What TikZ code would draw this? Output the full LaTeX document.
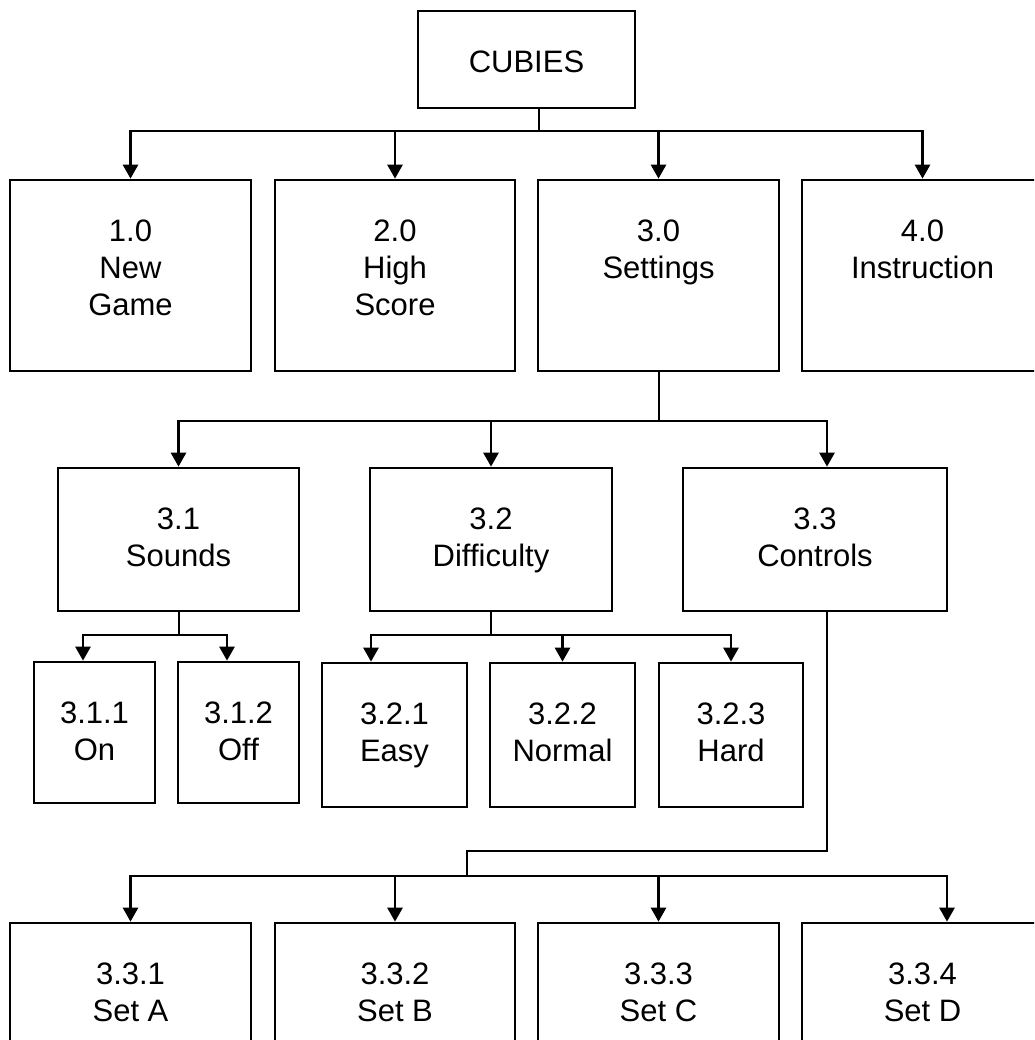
\documentclass[tikz,border=0pt]{standalone}
\usepackage{fontspec}
\setmainfont{Liberation Sans}
\usetikzlibrary{arrows.meta,fit,calc}
\tikzset{
  box/.style={draw, line width=2.7pt, inner sep=0pt},
  lbl/.style={font=\fontsize{31}{37}\selectfont, align=center, anchor=north, inner sep=0pt},
  wire/.style={line width=2.7pt},
  arr/.style={wire, -{Triangle[width=15pt,length=14pt]}},
}
% \chartbox{name}{x1}{y1}{x2}{y2}{text}: a framed box with its text hung from the top
\newcommand\chartbox[6]{%
  \path (#2,#3) coordinate (#1-a) (#4,#5) coordinate (#1-b);
  \node[box, fit=(#1-a)(#1-b)] (#1) {};
  \node[lbl] (#1-t) at ($(#1.north)+(0,40.8)$) {#6};
}
\begin{document}
\begin{tikzpicture}[x=1pt,y=-1pt]
\useasboundingbox (0,0) rectangle (1034,1040);
\clip (0,0) rectangle (1034,1040);

% top level
\chartbox{root}{418}{11}{635}{108}{CUBIES}

% main menu
\chartbox{b1}{10}{180}{251}{371}{1.0\\New\\Game}
\chartbox{b2}{275}{180}{515}{371}{2.0\\High\\Score}
\chartbox{b3}{538}{180}{779}{371}{3.0\\Settings}
\chartbox{b4}{802}{180}{1043}{371}{4.0\\Instruction}

% settings
\chartbox{s1}{58}{468}{299}{611}{3.1\\Sounds}
\chartbox{s2}{370}{468}{612}{611}{3.2\\Difficulty}
\chartbox{s3}{683}{468}{947}{611}{3.3\\Controls}

% sounds
\chartbox{t1}{34}{662}{155}{803}{3.1.1\\On}
\chartbox{t2}{178}{662}{299}{803}{3.1.2\\Off}

% difficulty
\chartbox{u1}{322}{663}{467}{807}{3.2.1\\Easy}
\chartbox{u2}{490}{663}{635}{807}{3.2.2\\Normal}
\chartbox{u3}{659}{663}{803}{807}{3.2.3\\Hard}

% controls
\chartbox{c1}{10}{923}{251}{1080}{3.3.1\\Set A}
\chartbox{c2}{275}{923}{515}{1080}{3.3.2\\Set B}
\chartbox{c3}{538}{923}{779}{1080}{3.3.3\\Set C}
\chartbox{c4}{802}{923}{1043}{1080}{3.3.4\\Set D}

% CUBIES -> main menu
\coordinate (j0) at (539,131);
\draw[wire] (root.south -| j0) -- (j0);
\foreach \n in {b1,b2,b3,b4} \draw[arr] (j0) -| (\n.north);

% Settings -> sub-menus
\coordinate (j1) at (659,421);
\draw[wire] (b3.south -| j1) -- (j1);
\draw[arr] (j1) -| (s1.north);
\draw[arr] (j1) -| (s2.north);
\draw[arr] (j1) -| ([xshift=12pt]s3.north);

% Sounds -> on / off
\coordinate (j2) at (179,635);
\draw[wire] (s1.south -| j2) -- (j2);
\draw[arr] (j2) -| ([xshift=-11.5pt]t1.north);
\draw[arr] (j2) -| ([xshift=-11.5pt]t2.north);

% Difficulty -> levels
\coordinate (j3) at (491,635);
\draw[wire] (s2.south -| j3) -- (j3);
\draw[arr] (j3) -| ([xshift=-23.5pt]u1.north);
\draw[arr] (j3) -| (u2.north);
\draw[arr] (j3) -| (u3.north);

% Controls -> key sets
\coordinate (k1) at (827,851);
\coordinate (j4) at (467,876);
\draw[wire] ([xshift=12pt]s3.south) -- (k1) -| (j4);
\draw[arr] (j4) -| (c1.north);
\draw[arr] (j4) -| (c2.north);
\draw[arr] (j4) -| (c3.north);
\draw[arr] (j4) -| ([xshift=24.5pt]c4.north);
\end{tikzpicture}
\end{document}
